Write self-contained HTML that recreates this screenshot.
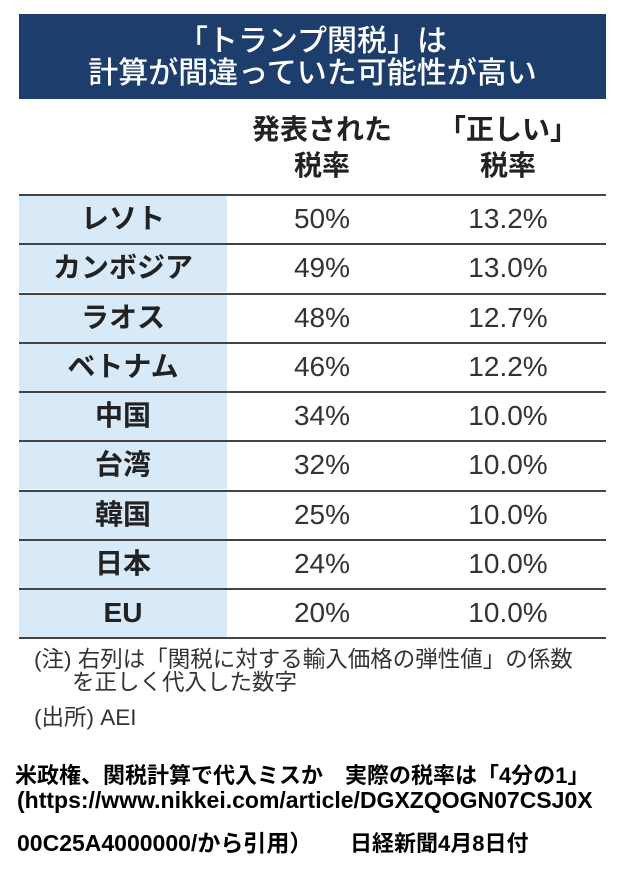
<!DOCTYPE html>
<html><head><meta charset="utf-8"><style>
body{margin:0;width:621px;height:878px;background:#fff;font-family:"Liberation Sans","Noto Sans CJK JP",sans-serif;position:relative;overflow:hidden;color:#222}
.hd{position:absolute;left:19px;top:14px;width:587px;height:85px;background:#1d3e6c;color:#fff;text-align:center;font-size:30px;font-weight:500;line-height:32px;padding-top:12px;box-sizing:border-box}
.ch{position:absolute;top:112px;font-size:28px;font-weight:bold;line-height:36px;text-align:center;width:200px}
.row{position:absolute;left:19px;width:587px;height:49px;border-top:2px solid #444;box-sizing:border-box}
.row .n{position:absolute;left:0;top:0;width:208px;height:100%;background:#d8e9f7;text-align:center;font-weight:bold;font-size:28px;line-height:46px}
.row .a,.row .b{position:absolute;top:0;width:200px;text-align:center;font-size:28px;line-height:46px;color:#333}
.row .a{left:203px}.row .b{left:389px}
.bot{position:absolute;left:19px;top:637px;width:587px;border-top:2px solid #444}
.note{position:absolute;left:34px;font-size:22.5px;line-height:23px;color:#333;white-space:nowrap}
.b2{position:absolute;font-weight:bold;color:#000;white-space:nowrap}
</style></head><body>
<div class="hd">「トランプ関税」は<br>計算が間違っていた可能性が高い</div>
<div class="ch" style="left:222px">発表された<br>税率</div>
<div class="ch" style="left:408px">「正しい」<br>税率</div>
<div class="row" style="top:194px"><div class="n">レソト</div><div class="a">50%</div><div class="b">13.2%</div></div>
<div class="row" style="top:243px"><div class="n">カンボジア</div><div class="a">49%</div><div class="b">13.0%</div></div>
<div class="row" style="top:293px"><div class="n">ラオス</div><div class="a">48%</div><div class="b">12.7%</div></div>
<div class="row" style="top:342px"><div class="n">ベトナム</div><div class="a">46%</div><div class="b">12.2%</div></div>
<div class="row" style="top:391px"><div class="n">中国</div><div class="a">34%</div><div class="b">10.0%</div></div>
<div class="row" style="top:440px"><div class="n">台湾</div><div class="a">32%</div><div class="b">10.0%</div></div>
<div class="row" style="top:490px"><div class="n">韓国</div><div class="a">25%</div><div class="b">10.0%</div></div>
<div class="row" style="top:539px"><div class="n">日本</div><div class="a">24%</div><div class="b">10.0%</div></div>
<div class="row" style="top:588px"><div class="n">EU</div><div class="a">20%</div><div class="b">10.0%</div></div>
<div class="bot"></div>
<div class="note" style="top:648px">(注) 右列は「関税に対する輸入価格の弾性値」の係数</div>
<div class="note" style="top:671px;left:72px">を正しく代入した数字</div>
<div class="note" style="top:706px">(出所) AEI</div>
<div class="b2" style="left:15px;top:758px;font-size:22px">米政権、関税計算で代入ミスか　実際の税率は「4分の1」</div>
<div class="b2" style="left:17px;top:787px;font-size:23px">(https://www.nikkei.com/article/DGXZQOGN07CSJ0X</div>
<div class="b2" style="left:17px;top:824px;font-size:23px">00C25A4000000/から引用）</div>
<div class="b2" style="left:350px;top:826px;font-size:22px">日経新聞4月8日付</div>
</body></html>
